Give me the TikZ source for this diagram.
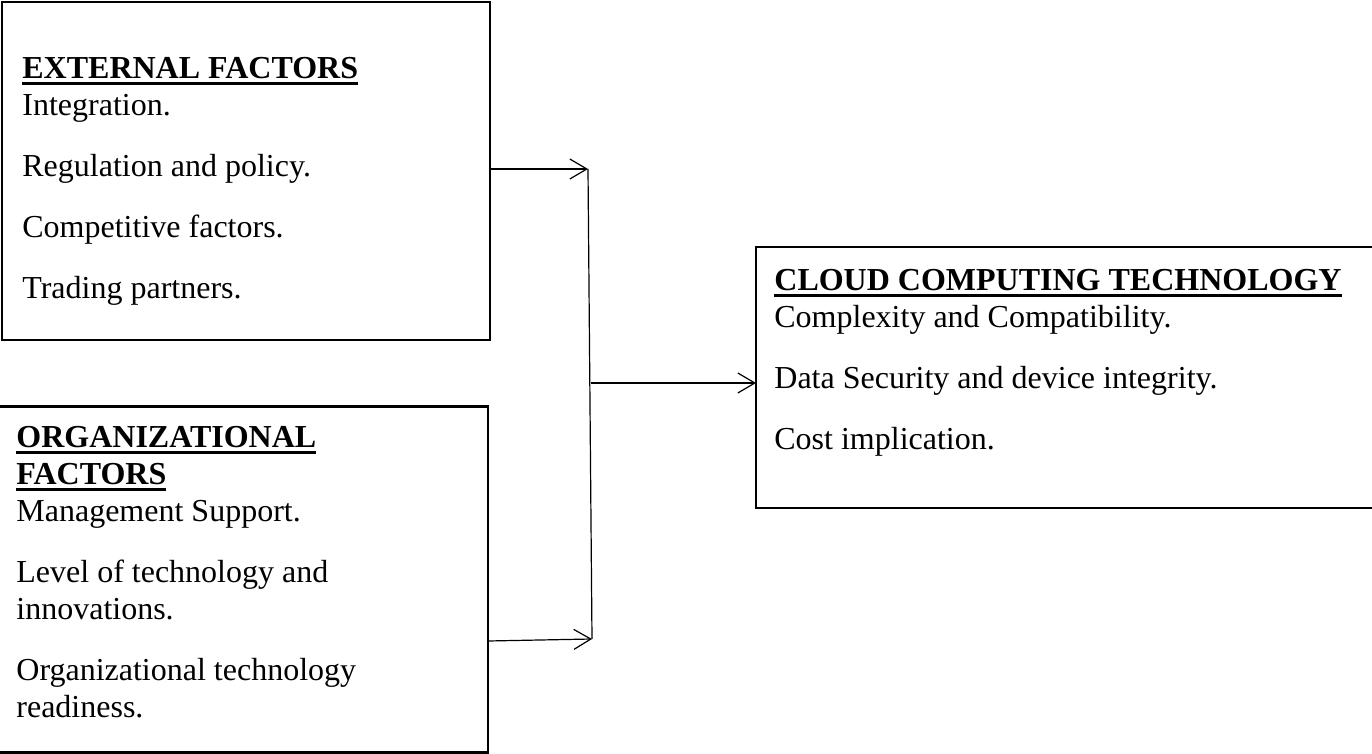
\documentclass[tikz,border=0pt]{standalone}
\usepackage{fontspec}
\setmainfont{Liberation Serif}
\usetikzlibrary{arrows.meta, positioning, calc}
\newcommand{\hd}[1]{\sbox0{\bfseries #1}\rlap{\rule[-3pt]{\wd0}{1.5pt}}\usebox0}

\begin{document}
\begin{tikzpicture}[x=0.5pt, y=-0.5pt, >={Straight Barb[length=8.5pt,width=10pt]},
    factorbox/.style={draw, line width=1.2pt, inner sep=0pt, outer sep=0pt},
    boxtext/.style={anchor=north west, align=left, inner sep=0pt,
      font=\fontsize{16}{18.5}\selectfont},
    link/.style={line width=0.6pt}]
  \useasboundingbox (0,0) rectangle (1372,754);
  % the three boxes
  \node[factorbox, minimum width=244pt, minimum height=169pt] (ext) at (246,171) {};
  \node[factorbox, minimum width=245pt, minimum height=173pt] (org) at (243,579.5) {};
  \node[factorbox, minimum width=312pt, minimum height=130.5pt] (tech) at (1068,377.5) {};
  \node[boxtext] (extT) at (22,57) {\hd{EXTERNAL FACTORS}\\Integration.\\[12pt]
    Regulation and policy.\\[12pt]Competitive factors.\\[12pt]Trading partners.};
  \node[boxtext] (orgT) at (16,426) {\hd{ORGANIZATIONAL}\\\hd{FACTORS}\\Management Support.\\[12pt]
    Level of technology and\\innovations.\\[12pt]Organizational technology\\readiness.};
  \node[boxtext] (techT) at (774,269) {\hd{CLOUD COMPUTING TECHNOLOGY}\\Complexity and Compatibility.\\[12pt]
    Data Security and device integrity.\\[12pt]Cost implication.};
  % joining lines
  \coordinate (jt) at (588,169);
  \coordinate (jm) at (590.5,383);
  \coordinate (jb) at (592,639);
  \coordinate (ob) at (0,641);
  \draw[link] (jt) -- (jb);
  \draw[link, ->] (ext.east |- jt) -- (jt);
  \draw[link, ->] (org.east |- ob) -- (jb);
  \draw[link, ->] (jm) -- (tech.west |- jm);
\end{tikzpicture}
\end{document}
